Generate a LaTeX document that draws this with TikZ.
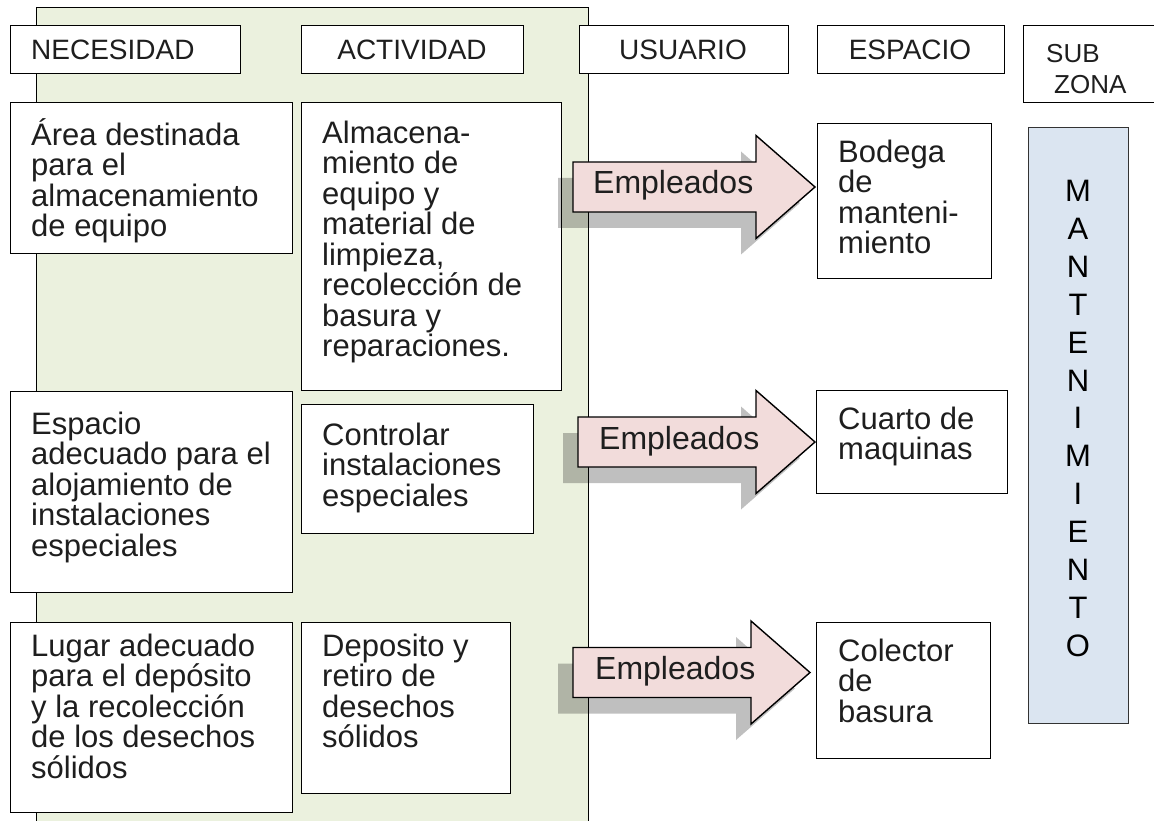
\documentclass[tikz,border=0pt]{standalone}
\usepackage{fontspec}
\setmainfont{Liberation Sans}
\usetikzlibrary{calc}
\definecolor{greenbg}{HTML}{EBF1DE}
\definecolor{pinkar}{HTML}{F2DCDB}
\definecolor{bluebg}{HTML}{DBE5F1}
\definecolor{inkc}{HTML}{1E1E1E}
\newcommand\mybox[5]{\node[box, anchor=north west, minimum width={(#4)-(#2)}, minimum height={(#5)-(#3)}] (#1) at (#2,#3) {};}
% name, x left, x head base, y centre, text x
\newcommand\emparrow[5]{%
  \fill[black, opacity=0.25] (#2-15,#4-25+16) -- (#3-15,#4-25+16) -- (#3-15,#4-51.5+16) -- (#3+59-15,#4+16) -- (#3-15,#4+51.5+16) -- (#3-15,#4+25+16) -- (#2-15,#4+25+16) -- cycle;
  \draw[arrowbody] (#2,#4-25) -- (#3,#4-25) -- (#3,#4-51.5) -- (#3+59,#4) -- (#3,#4+51.5) -- (#3,#4+25) -- (#2,#4+25) -- cycle;
  \node[emp] (#1) at (#5,#4+7) {Empleados};}
\begin{document}
\begin{tikzpicture}[x=1pt,y=-1pt,
  box/.style={draw=black, line width=1.4pt, fill=white, rectangle, inner sep=0pt},
  hdr/.style={font=\fontsize{28}{28}\selectfont, text=inkc, inner sep=0pt, anchor=base},
  subz/.style={font=\fontsize{26}{26}\selectfont, text=inkc, inner sep=0pt, anchor=base west},
  body/.style={font=\fontsize{31}{30.5}\selectfont, text=inkc, inner sep=0pt, anchor=north west, align=left},
  emp/.style={font=\fontsize{32}{32}\selectfont, text=inkc, inner sep=0pt, anchor=base west},
  arrowbody/.style={draw=black, line width=1.4pt, fill=pinkar, line join=miter},
  zonetext/.style={font=\fontsize{31}{37.96}\selectfont, text=black, inner sep=0pt, anchor=north, align=center}
]
\useasboundingbox (0,0) rectangle (1154,821);
\clip (0,0) rectangle (1154,821);
\fill[white] (0,0) rectangle (1154,821);
% green column band
\node[draw=black, line width=1.4pt, fill=greenbg, anchor=north west, minimum width=552, minimum height=840, inner sep=0pt] (band) at (36,7) {};
% headers
\mybox{hNec}{10}{25}{240}{73}
\mybox{hAct}{301}{25}{523}{73}
\mybox{hUsu}{579}{25}{788}{73}
\mybox{hEsp}{817}{25}{1004}{73}
\mybox{hSub}{1023}{25}{1175}{102}
\node[hdr, anchor=base west] (tNec) at (31,60) {NECESIDAD};
\node[hdr] (tAct) at (412,60) {ACTIVIDAD};
\node[hdr] (tUsu) at (683,60) {USUARIO};
\node[hdr] (tEsp) at (910,60) {ESPACIO};
\node[subz] (tSubA) at (1046,63) {SUB};
\node[subz] (tSubB) at (1054,94) {ZONA};
% rows
\mybox{n1}{10}{102}{292}{253}
\mybox{a1}{301}{102}{561}{390}
\mybox{e1}{817}{123}{991}{278}
\mybox{n2}{10}{391}{292}{592}
\mybox{a2}{301}{404}{533}{533}
\mybox{e2}{816}{390}{1007}{493}
\mybox{n3}{10}{622}{292}{812}
\mybox{a3}{301}{622}{510}{793}
\mybox{e3}{816}{622}{990}{758}
% sub zone
\node[draw=black!80, line width=1.4pt, fill=bluebg, anchor=north west, minimum width=100, minimum height=596, inner sep=0pt] (zone) at (1028,127) {};
\node[zonetext] (zoneT) at (1078,171) {\rule{0pt}{30pt}M\\A\\N\\T\\E\\N\\I\\M\\I\\E\\N\\T\\O};
% arrows
\emparrow{u1}{573}{756}{187}{593}
\emparrow{u2}{578}{756}{442}{599}
\emparrow{u3}{573}{751}{672.5}{595}
% texts
\node[body] (tn1) at (31,115) {\rule{0pt}{30pt}Área destinada\\para el\\almacenamiento\\de equipo};
\node[body] (ta1) at (322,113) {\rule{0pt}{30pt}Almacena-\\miento de\\equipo y\\material de\\limpieza,\\recolección de\\basura y\\reparaciones.};
\node[body] (te1) at (838,132) {\rule{0pt}{30pt}Bodega\\de\\manteni-\\miento};
\node[body] (tn2) at (31,404) {\rule{0pt}{30pt}Espacio\\adecuado para el\\alojamiento de\\instalaciones\\especiales};
\node[body] (ta2) at (322,415) {\rule{0pt}{30pt}Controlar\\instalaciones\\especiales};
\node[body] (te2) at (838,399) {\rule{0pt}{30pt}Cuarto de\\maquinas};
\node[body] (tn3) at (31,626) {\rule{0pt}{30pt}Lugar adecuado\\para el depósito\\y la recolección\\de los desechos\\sólidos};
\node[body] (ta3) at (322,626) {\rule{0pt}{30pt}Deposito y\\retiro de\\desechos\\sólidos};
\node[body] (te3) at (838,631) {\rule{0pt}{30pt}Colector\\de\\basura};
\end{tikzpicture}
\end{document}
